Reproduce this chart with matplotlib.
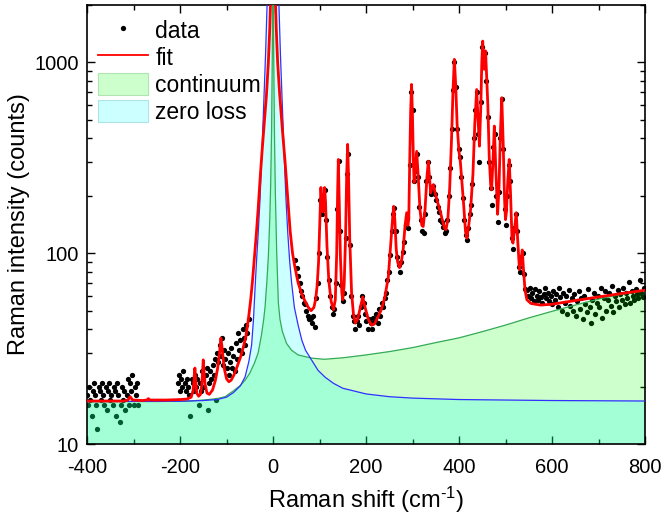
import matplotlib
matplotlib.use('Agg')
import matplotlib.pyplot as plt
from matplotlib.lines import Line2D
from matplotlib.patches import Patch
from matplotlib.ticker import MultipleLocator, LogLocator, NullFormatter, FuncFormatter

plt.rcParams['font.family'] = ['Liberation Sans', 'DejaVu Sans']
plt.rcParams['mathtext.fontset'] = 'custom'
plt.rcParams['mathtext.rm'] = 'Liberation Sans'
plt.rcParams['mathtext.default'] = 'regular'
plt.rcParams['axes.unicode_minus'] = False

# ---------------- data ----------------
# anti-Stokes far wing
shift_a = [-400, -397.5, -395, -392.5, -390, -387.5, -385, -382.5, -380, -377.5,
           -375, -372.5, -370, -367.5, -365, -362.5, -360, -357.5, -355, -352.5,
           -350, -347.5, -345, -342.5, -340, -337.5, -335, -332.5, -330, -327.5,
           -325, -322.5, -320, -317.5, -315, -312.5, -310, -307.5, -305, -302.5,
           -300, -297.5, -295, -292.5, -290]
counts_a = [18, 16, 20, 17, 14, 19, 21, 18, 16, 12,
            20, 19, 17, 21, 18, 16, 20, 15, 19, 21,
            17, 18, 16, 20, 19, 14, 21, 18, 13, 16,
            20, 17, 19, 15, 18, 22, 16, 21, 19, 23,
            16, 20, 18, 21, 16]

# anti-Stokes near wing
shift_b = [-205, -202.5, -200, -197.5, -195, -192.5, -190, -187.5, -185, -182.5,
           -180, -177.5, -175, -172.5, -170, -167.5, -165, -162.5, -160, -157.5,
           -155, -152.5, -150, -147.5, -145, -142.5, -140, -137.5, -135, -132.5,
           -130, -127.5, -125, -122.5, -120, -117.5, -115, -112.5, -110, -107.5,
           -105, -102.5, -100, -97.5, -95, -92.5, -90, -87.5, -85, -82.5,
           -80, -77.5, -75, -72.5, -70, -67.5, -65, -62.5, -60, -57.5,
           -55, -52.5]
counts_b = [21, 23, 19, 22, 20, 24, 21, 19, 22, 20,
            18, 14, 22, 21, 19, 23, 20, 22, 16, 21,
            19, 24, 22, 20, 23, 25, 15, 21, 24, 22,
            26, 23, 28, 17, 30, 27, 33, 29, 36, 26,
            31, 28, 25, 30, 23, 27, 32, 25, 29, 24,
            34, 28, 38, 31, 35, 30, 40, 36, 33, 42,
            38, 45]

# Stokes phonon region
shift_c = [48, 51, 54, 57, 60, 63, 66, 69, 72, 75,
           78, 81, 84, 87, 90, 93, 96, 99, 102, 105,
           108, 111, 114, 117, 120, 123, 126, 129, 132, 135,
           138, 141, 144, 147, 150, 153, 156, 159, 162, 165,
           168, 171, 174, 177, 180, 183, 186, 189, 192, 195,
           198, 201, 204, 207, 210, 213, 216, 219, 222, 225,
           228, 231, 234, 237, 240, 243, 246, 249, 252, 255,
           258, 261, 264, 267, 270, 273, 276, 279, 282, 285,
           288, 291, 294, 297, 300, 303, 306, 309, 312, 315,
           318, 321, 324, 327, 330, 333, 336, 339, 342, 345,
           348, 351, 354, 357, 360, 363, 366, 369, 372, 375,
           378, 381, 384, 387, 390, 393, 396, 399, 402, 405,
           408, 411, 414, 417, 420, 423, 426, 429, 432, 435,
           438, 441, 444, 447, 450, 453, 456, 459, 462, 465,
           468, 471, 474, 477, 480, 483, 486, 489, 492, 495,
           498, 501, 504, 507, 510, 513, 516, 519, 522, 525,
           528, 531, 534, 537, 540, 543]
counts_c = [92, 84, 76, 70, 63, 60, 55, 54, 50, 47,
            45, 46, 43, 47, 41, 58, 70, 100, 190, 160,
            170, 215, 150, 95, 72, 60, 52, 48, 51, 70,
            170, 305, 130, 68, 56, 62, 120, 260, 330, 110,
            60, 47, 44, 40, 44, 47, 42, 52, 60, 55,
            48, 44, 40, 45, 43, 40, 46, 44, 48, 43,
            51, 47, 55, 52, 58, 62, 72, 80, 98, 130,
            160, 172, 130, 95, 87, 80, 90, 102, 115, 140,
            155, 135, 290, 700, 560, 240, 270, 330, 250, 175,
            150, 130, 128, 160, 240, 300, 250, 205, 215, 225,
            205, 190, 175, 165, 150, 145, 138, 128, 130, 150,
            200, 280, 450, 720, 1010, 740, 450, 350, 320, 250,
            195, 150, 125, 118, 135, 160, 180, 230, 400, 560,
            700, 420, 300, 620, 1200, 1050, 1120, 800, 520, 300,
            220, 180, 360, 420, 200, 145, 210, 400, 640, 350,
            170, 140, 200, 290, 240, 120, 105, 135, 160, 130,
            85, 80, 95, 100, 78, 65]

# high-energy tail
shift_d = [546, 549, 552, 555, 558, 561, 564, 567, 570, 573,
           576, 579, 582, 585, 588, 591, 594, 597, 600, 603,
           606, 609, 612, 615, 618, 621, 624, 627, 630, 633,
           636, 639, 642, 645, 648, 651, 654, 657, 660, 663,
           666, 669, 672, 675, 678, 681, 684, 687, 690, 693,
           696, 699, 702, 705, 708, 711, 714, 717, 720, 723,
           726, 729, 732, 735, 738, 741, 744, 747, 750, 753,
           756, 759, 762, 765, 768, 771, 774, 777, 780, 783,
           786, 789, 792, 795, 798]
counts_d = [64, 60, 66, 58, 62, 56, 65, 60, 57, 63,
            59, 55, 61, 66, 58, 62, 56, 60, 54, 63,
            57, 61, 52, 66, 59, 50, 62, 55, 60, 48,
            64, 53, 58, 50, 61, 47, 56, 63, 51, 58,
            45, 60, 54, 49, 65, 52, 43, 57, 62, 48,
            55, 60, 52, 66, 46, 58, 63, 50, 57, 62,
            53, 67, 49, 60, 56, 64, 52, 61, 57, 66,
            54, 62, 58, 71, 55, 63, 60, 57, 65, 61,
            58, 72, 62, 59, 66]

# fit curve (x, y) vertices
fit_points = [
    (-400, 16.8), (-320, 16.8), (-312, 17.0), (-307, 17.7), (-302, 17.0), (-280, 16.9),
    (-271, 17.0), (-268, 17.3), (-265, 17.0), (-230, 17.0), (-200, 17.1), (-185, 17.2),
    (-176, 17.6), (-172, 19), (-169.5, 22), (-168, 25), (-166.5, 22), (-164, 18.5),
    (-160, 17.8), (-156, 18.2), (-153, 20.5), (-151.5, 24), (-150, 27.6), (-148.5, 24),
    (-146, 20.5), (-142, 18.5), (-137, 18.2), (-130, 19.2), (-124, 21.5), (-119, 25),
    (-115, 30), (-112, 35.9), (-109, 31), (-105, 25), (-100, 22), (-95, 21.2), (-90, 21.6),
    (-84, 23), (-77, 25.5), (-70, 28.5), (-64, 32), (-58, 37), (-53, 45), (-48, 57),
    (-44, 72), (-40, 95), (-36, 125), (-32, 170), (-28, 240), (-24, 330), (-19, 470),
    (-14, 680), (-10, 1000), (-7, 1500), (-4, 2600), (0, 6000), (4, 2600), (7, 1500),
    (10, 1000), (14, 700), (20, 450), (26, 300), (32, 190), (37, 130), (42, 100), (47, 85),
    (54, 70), (62, 61), (69, 56), (76, 52), (82, 50), (88, 52), (92, 58), (95, 68), (98, 90),
    (100.5, 140), (103, 221), (105, 185), (107, 165), (109, 185), (111, 221), (113, 185),
    (116, 110), (120, 72), (125, 56), (130, 50.5), (134, 57), (137, 100), (139, 210),
    (140.5, 310), (142, 210), (145, 95), (148, 62), (150, 57), (153, 68), (156, 120),
    (158.5, 260), (160.5, 372), (162.5, 250), (165, 120), (169, 62), (173, 48), (177, 43),
    (182, 45), (188, 52), (193, 59), (198, 52), (205, 45), (212, 42), (218, 42.5), (225, 46),
    (232, 50), (240, 58), (248, 75), (253, 110), (257, 150), (259.5, 176), (262, 150),
    (265, 105), (268, 90), (272, 84), (276, 90), (280, 105), (284, 140), (287.5, 163),
    (290, 140), (292, 150), (294, 300), (296, 550), (298, 767), (300, 520), (302, 300),
    (303.5, 235), (306, 280), (309, 342), (312, 260), (316, 170), (320, 140), (323, 138),
    (327, 170), (331, 250), (334, 303), (337, 240), (339, 207), (342, 222), (345, 229),
    (349, 205), (354, 185), (359, 168), (364, 150), (369, 135), (372, 133), (376, 150),
    (380, 220), (384, 400), (387, 700), (390, 1038), (393, 750), (396, 470), (400, 340),
    (403, 300), (406, 240), (410, 180), (414, 130), (417, 120), (421, 140), (425, 170),
    (430, 260), (434, 480), (438, 721), (441, 500), (444, 364), (447, 600), (449, 1000),
    (451, 1294), (453, 1000), (454.5, 920), (457, 1150), (459, 900), (462, 600), (465, 320),
    (468, 230), (470, 215), (473, 300), (476, 464), (479, 280), (483, 160), (486, 220),
    (489, 420), (492, 653), (495, 380), (498, 190), (500, 150), (502, 165), (505, 240),
    (508, 310), (511, 200), (514, 118), (516, 113), (519, 130), (523, 163), (526, 120),
    (530, 82), (533, 90), (536, 104), (539, 80), (542, 64), (546, 57), (555, 54.5),
    (575, 53.5), (600, 54), (650, 56.5), (700, 59), (750, 61.5), (800, 64),
]

# continuum component (x, y) vertices
continuum_points = [
    (-400, 16.7), (-250, 16.7), (-180, 16.8), (-150, 17.0), (-120, 17.3), (-103, 17.7),
    (-85, 19.0), (-70, 20.3), (-60, 21.6), (-50, 23.5), (-40, 26.5), (-32, 30),
    (-25, 37), (-20, 45), (-17, 52.6), (-13, 72), (-10, 96), (-7, 150), (-5, 230),
    (-3, 450), (-1.5, 1100), (0, 4000), (1.5, 1100), (3, 450), (5, 210), (8, 100),
    (11.5, 55), (15, 45), (20, 39), (29, 33.7), (40, 31), (54, 29.3), (83, 28.2),
    (110, 27.8), (150, 28.3), (200, 29.3), (250, 30.5), (300, 32), (350, 34), (400, 36),
    (450, 38.8), (500, 42), (550, 45.8), (600, 49.6), (650, 53.5), (700, 57.5),
    (750, 61), (800, 64),
]

# zero-loss component (x, y) vertices
zero_loss_points = [
    (-400, 16.7), (-200, 16.75), (-150, 16.9), (-120, 17.1), (-100, 17.6), (-85, 18.6),
    (-70, 20.2), (-60, 22.5), (-52, 27), (-46, 33), (-42, 45), (-38, 70), (-35, 95),
    (-32, 125), (-28, 190), (-24, 330), (-20, 600), (-16, 1100), (-12, 2300), (-8, 5000),
    (0, 10000), (8, 5000), (12, 2300), (16, 1100), (20, 600), (24, 330), (28, 190),
    (32, 125), (36, 90), (40, 70), (46, 52), (54, 42), (62, 35), (70, 31), (82, 27.8),
    (97, 24.3), (112, 22.4), (130, 20.8), (150, 19.6), (200, 18.3), (250, 17.7),
    (300, 17.4), (400, 17.1), (500, 17.0), (600, 16.9), (800, 16.8),
]

legend_labels = ['data', 'fit', 'continuum', 'zero loss']

# ---------------- figure ----------------
fig = plt.figure(figsize=(6.64, 5.15), dpi=100)
ax = fig.add_axes([87 / 664, 1 - 444 / 515, (645 - 87) / 664, (444 - 5) / 515])

data_x = shift_a + shift_b + shift_c + shift_d
data_y = counts_a + counts_b + counts_c + counts_d
ax.plot(data_x, data_y, ls='none', marker='o', ms=3.8, mec='none', mfc='black', zorder=1)

fx, fy = zip(*fit_points)
cx, cy = zip(*continuum_points)
zx, zy = zip(*zero_loss_points)

ax.fill_between(cx, cy, 1, facecolor=(0, 1, 0), alpha=0.2, lw=0, zorder=2)
ax.fill_between(zx, zy, 1, facecolor=(0, 1, 1), alpha=0.2, lw=0, zorder=2.1)
ax.plot(cx, cy, color='#33aa55', lw=0.9, zorder=3)
ax.plot(zx, zy, color='#3030ff', lw=0.9, zorder=3.1)
ax.plot(fx, fy, color='red', lw=2.0, zorder=4)

ax.set_yscale('log')
ax.set_xlim(-400, 800)
ax.set_ylim(10, 2000)

ax.xaxis.set_major_locator(MultipleLocator(200))
ax.xaxis.set_minor_locator(MultipleLocator(100))
ax.yaxis.set_major_locator(LogLocator(base=10, numticks=10))
ax.yaxis.set_minor_locator(LogLocator(base=10, subs=range(2, 10), numticks=20))
ax.yaxis.set_major_formatter(FuncFormatter(lambda v, p: '%d' % round(v)))
ax.yaxis.set_minor_formatter(NullFormatter())

ax.tick_params(which='both', direction='in', top=True, right=True, width=1.0,
               labelsize=14.5)
ax.tick_params(axis='x', which='both', pad=10)
ax.tick_params(axis='y', which='both', pad=6)
ax.tick_params(which='major', length=5.5)
ax.tick_params(which='minor', length=3.5)
for s in ax.spines.values():
    s.set_linewidth(1.2)

ax.set_xlabel('Raman shift (cm$^{\\text{-}1}$)', fontsize=17, labelpad=6)
ax.set_ylabel('Raman intensity (counts)', fontsize=17, labelpad=3)

handles = [
    Line2D([], [], ls='none', marker='o', ms=3.8, mec='none', mfc='black'),
    Line2D([], [], color='red', lw=1.3),
    Patch(facecolor='#ccffcc', edgecolor='#b0e4b0', lw=0.8),
    Patch(facecolor='#ccffff', edgecolor='#b0e4e4', lw=0.8),
]
ax.legend(handles, legend_labels, loc='upper left', bbox_to_anchor=(-0.005, 1.0),
          frameon=False, fontsize=16.5, handlelength=2.2, handleheight=1.1,
          labelspacing=0.15, handletextpad=0.3, borderaxespad=0.3, borderpad=0.3)

fig.savefig('out.png', dpi=100)
